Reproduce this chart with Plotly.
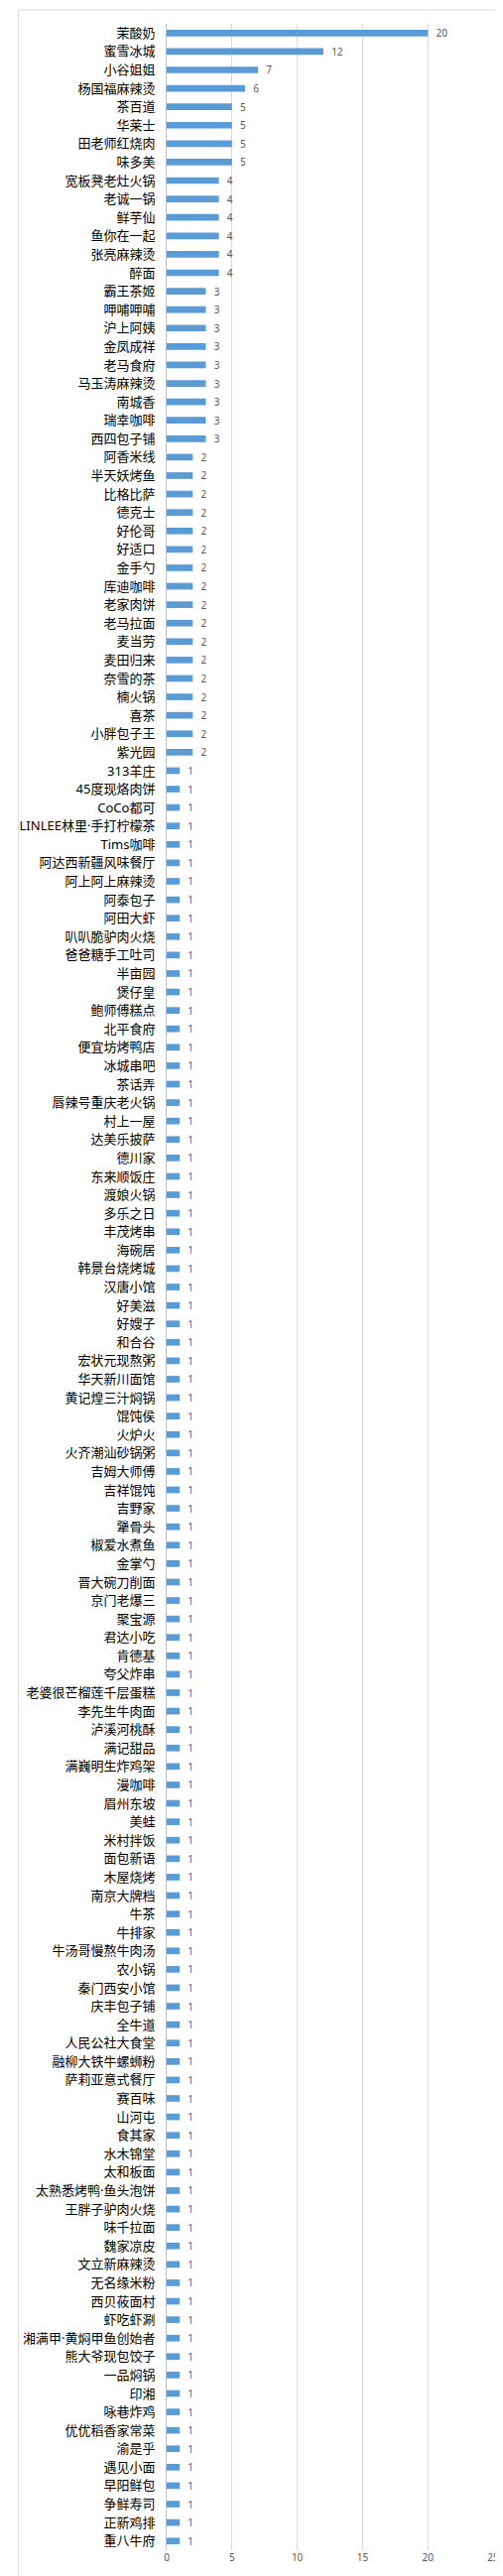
import plotly.graph_objects as go

# store names, top to bottom
names = [
    "茉酸奶", "蜜雪冰城", "小谷姐姐", "杨国福麻辣烫", "茶百道", "华莱士", "田老师红烧肉", "味多美",
    "宽板凳老灶火锅", "老诚一锅", "鲜芋仙", "鱼你在一起", "张亮麻辣烫", "醉面",
    "霸王茶姬", "呷哺呷哺", "沪上阿姨", "金凤成祥", "老马食府", "马玉涛麻辣烫", "南城香", "瑞幸咖啡", "西四包子铺",
    "阿香米线", "半天妖烤鱼", "比格比萨", "德克士", "好伦哥", "好适口", "金手勺", "库迪咖啡", "老家肉饼",
    "老马拉面", "麦当劳", "麦田归来", "奈雪的茶", "楠火锅", "喜茶", "小胖包子王", "紫光园",
    "313羊庄", "45度现烙肉饼", "CoCo都可", "LINLEE林里·手打柠檬茶", "Tims咖啡", "阿达西新疆风味餐厅",
    "阿上阿上麻辣烫", "阿泰包子", "阿田大虾", "叭叭脆驴肉火烧", "爸爸糖手工吐司", "半亩园", "煲仔皇",
    "鲍师傅糕点", "北平食府", "便宜坊烤鸭店", "冰城串吧", "茶话弄", "唇辣号重庆老火锅", "村上一屋",
    "达美乐披萨", "德川家", "东来顺饭庄", "渡娘火锅", "多乐之日", "丰茂烤串", "海碗居", "韩景台烧烤城",
    "汉唐小馆", "好美滋", "好嫂子", "和合谷", "宏状元现熬粥", "华天新川面馆", "黄记煌三汁焖锅", "馄饨侯",
    "火炉火", "火齐潮汕砂锅粥", "吉姆大师傅", "吉祥馄饨", "吉野家", "犟骨头", "椒爱水煮鱼", "金掌勺",
    "晋大碗刀削面", "京门老爆三", "聚宝源", "君达小吃", "肯德基", "夸父炸串", "老婆很芒榴莲千层蛋糕",
    "李先生牛肉面", "泸溪河桃酥", "满记甜品", "满巍明生炸鸡架", "漫咖啡", "眉州东坡", "美蛙", "米村拌饭",
    "面包新语", "木屋烧烤", "南京大牌档", "牛茶", "牛排家", "牛汤哥慢熬牛肉汤", "农小锅", "秦门西安小馆",
    "庆丰包子铺", "全牛道", "人民公社大食堂", "融柳大铁牛螺蛳粉", "萨莉亚意式餐厅", "赛百味", "山河屯",
    "食其家", "水木锦堂", "太和板面", "太熟悉烤鸭·鱼头泡饼", "王胖子驴肉火烧", "味千拉面", "魏家凉皮",
    "文立新麻辣烫", "无名缘米粉", "西贝莜面村", "虾吃虾涮", "湘满甲·黄焖甲鱼创始者", "熊大爷现包饺子",
    "一品焖锅", "印湘", "咏巷炸鸡", "优优稻香家常菜", "渝是乎", "遇见小面", "早阳鲜包", "争鲜寿司",
    "正新鸡排", "重八牛府",
]

top_counts = [20, 12, 7, 6, 5, 5, 5, 5, 4, 4, 4, 4, 4, 4]
three_count = [3] * 9
two_count = [2] * 17
counts = top_counts + three_count + two_count + [1] * (len(names) - 40)

fig = go.Figure(
    go.Bar(
        x=counts,
        y=names,
        orientation="h",
        marker=dict(color="#5B9BD5", line=dict(width=0)),
        texttemplate="\u00a0\u00a0%{x}",
        textposition="outside",
        constraintext="none",
        textfont=dict(size=10, color="#595959"),
        cliponaxis=False,
    )
)

fig.update_layout(
    width=507,
    height=2597,
    margin=dict(l=156, r=16, t=16, b=34),
    paper_bgcolor="white",
    plot_bgcolor="white",
    font=dict(family="Noto Sans, Noto Sans CJK SC", color="#000000"),
    bargap=0.64,
    showlegend=False,
    shapes=[
        dict(
            type="rect", xref="paper", yref="paper",
            x0=-0.454, x1=1.04, y0=-0.012, y1=1.0055,
            line=dict(color="#D9D9D9", width=1),
        )
    ],
)
fig.update_xaxes(
    range=[0, 25],
    dtick=5,
    showgrid=True,
    gridcolor="#D9D9D9",
    zeroline=False,
    tickfont=dict(size=10, color="#595959"),
    ticks="",
)
fig.update_yaxes(
    autorange="reversed",
    showline=True,
    linecolor="#BFBFBF",
    linewidth=1,
    ticks="",
    ticklabelstandoff=8,
    tickfont=dict(size=13, color="#000000"),
)

fig.write_html("out.html")
